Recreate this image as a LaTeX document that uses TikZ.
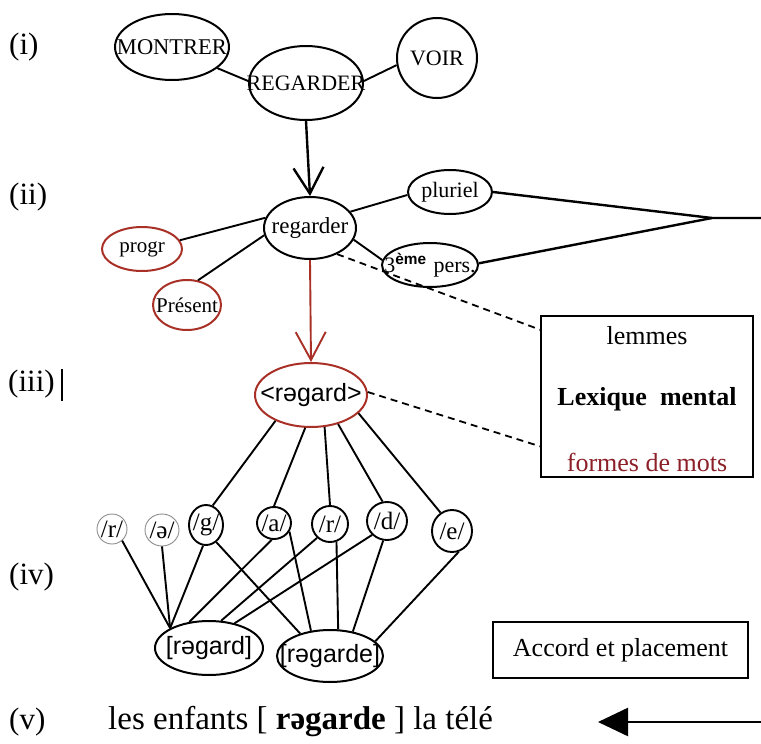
\documentclass[tikz,border=0pt]{standalone}
\usepackage{fontspec}
\setmainfont{Liberation Serif}
\newfontfamily\arialf{Liberation Sans}
\usetikzlibrary{shapes.geometric,arrows.meta}
\definecolor{myred}{RGB}{168,48,38}
\definecolor{txtred}{RGB}{140,32,40}
\newcommand{\fs}[1]{\fontsize{#1}{#1}\selectfont}
\tikzset{
  ell/.style={draw, ellipse, line width=2pt, inner sep=0pt},
  txt/.style 2 args={label={[font=#1, inner sep=0pt]center:#2}},
  redell/.style={ell, draw=myred},
  phon/.style={ell, line width=1.9pt},
  faint/.style={ell, line width=0.9pt, draw=black!45},
  conn/.style={line width=1.9pt},
  dashc/.style={line width=1.8pt, dash pattern=on 7pt off 5pt},
  lbl/.style={anchor=west, font=\fs{31}, inner sep=0pt},
  boxtxt/.style={font=\fs{26}, inner sep=0pt},
}
\begin{document}
\begin{tikzpicture}[x=1pt,y=-1pt]
\useasboundingbox (0,0) rectangle (761,744);
% labels
\node[lbl] (li) at (9,47) {(i)};
\node[lbl] (lii) at (9,197) {(ii)};
\node[lbl] (liii) at (8,384) {(iii)};
\node[lbl] (liv) at (9,577) {(iv)};
\node[lbl] (lv) at (9,722) {(v)};
\draw[line width=2.8pt] (62,369) -- (62,401);
% level (i)
\node[ell, minimum width=114pt, minimum height=66pt, txt={\fs{22.5}}{MONTRER}] (montrer) at (172,47) {};
\node[ell, minimum width=114pt, minimum height=74pt, txt={\fs{22}}{REGARDER}] (REG) at (306,83) {};
\node[ell, minimum width=80pt, minimum height=80pt, txt={\fs{22}}{VOIR}] (voir) at (437,58) {};
\draw[conn] (montrer.-25) -- (REG.178);
\draw[conn] (REG.2) -- (voir.190);
% level (ii)
\node[ell, minimum width=92pt, minimum height=62pt, txt={\fs{23}}{regarder}] (reg) at (310,228) {};
\node[ell, minimum width=84pt, minimum height=44pt, txt={\fs{22}}{pluriel}] (plur) at (450,192) {};
\node[ell, minimum width=96pt, minimum height=44pt, txt={\fs{22}}{3\textsuperscript{\arialf\bfseries ème}\hspace{7pt}pers.}] (pers) at (430,265) {};
\node[redell, minimum width=80pt, minimum height=44pt, txt={\fs{21}}{progr}] (progr) at (142,249) {};
\node[redell, minimum width=68pt, minimum height=50pt, txt={\fs{21}}{Présent}] (pres) at (187,305) {};
\draw[line width=2.4pt, -{Straight Barb[length=26pt,width=30pt,line width=2.4pt]}] (REG.south) -- (reg.north);
\draw[conn] (reg.22) -- (plur.184);
\draw[conn] (reg.345) -- (pers.174);
\draw[conn] (reg.167) -- (progr.13);
\draw[conn] (reg.189) -- (pres.66);
\coordinate (fork) at (712,218);
\coordinate (forkend) at (761,218);
\draw[line width=2.4pt] (plur.0) -- (fork) -- (forkend);
\draw[line width=2.4pt] (pers.2) -- (fork);
% lexique box
\node[draw, line width=1.8pt, minimum width=212pt, minimum height=161pt, inner sep=0pt] (lex) at (647,396.5) {};
\node[boxtxt] (lem) at (647,336) {lemmes};
\node[boxtxt, font=\fs{26}\bfseries] (lexm) at (647,399) {Lexique\ \ mental};
\node[boxtxt, text=txtred] (form) at (647,462) {formes de mots};
\draw[dashc] (reg.316) -- (lex.148);
% level (iii)
\node[redell, minimum width=112pt, minimum height=64pt, txt={\arialf\fs{25}}{<rəgard>}] (rag) at (311,395) {};
\draw[myred, line width=1.9pt, -{Straight Barb[length=28pt,width=30pt,line width=1.9pt]}] (reg.south) -- (rag.north);
\draw[dashc] (rag.3) -- (lex.205);
% level (iv)
\node[faint, minimum width=30pt, minimum height=30pt, txt={\fs{25}}{/r/}] (r1) at (112,529) {};
\node[faint, minimum width=34pt, minimum height=32pt, txt={\fs{25}}{/ə/}] (schwa) at (162,530) {};
\node[phon, minimum width=34pt, minimum height=40pt, txt={\fs{25}}{/g/}] (g) at (206,525) {};
\node[phon, minimum width=34pt, minimum height=32pt, txt={\fs{25}}{/a/}] (a) at (274,523) {};
\node[phon, minimum width=36pt, minimum height=36pt, txt={\fs{25}}{/r/}] (r2) at (330,524) {};
\node[phon, minimum width=40pt, minimum height=38pt, txt={\fs{25}}{/d/}] (d) at (387,521) {};
\node[phon, minimum width=40pt, minimum height=42pt, txt={\fs{25}}{/e/}] (e) at (452,531) {};
\draw[conn] (rag.216) -- (g.71);
\draw[conn] (rag.260) -- (a.north);
\draw[conn] (rag.293) -- (r2.north);
\draw[conn] (rag.313) -- (d.103);
\draw[conn] (rag.339) -- (e.122);
\node[ell, minimum width=108pt, minimum height=54pt, txt={\arialf\fs{25}}{[rəgard]}] (rgd) at (209,648) {};
\node[ell, minimum width=106pt, minimum height=52pt, txt={\arialf\fs{25}}{[rəgarde]}] (rgde) at (330,656) {};
\draw[conn] (r1.311) -- (rgd.153);
\draw[conn] (schwa.south) -- (rgd.153);
\draw[conn] (g.262) -- (rgd.153);
\draw[conn] (a.262) -- (rgd.127);
\draw[conn] (r2.227) -- (rgd.66);
\draw[conn] (d.223) -- (rgd.44);
\draw[conn] (g.301) -- (rgde.143);
\draw[conn] (a.331) -- (rgde.127);
\draw[conn] (r2.290) -- (rgde.73);
\draw[conn] (d.259) -- (rgde.47);
\draw[conn] (e.288) -- (rgde.18);
% accord box
\node[draw, line width=2.8pt, minimum width=255pt, minimum height=56pt, font=\fs{26}] (acc) at (620.5,650) {Accord et placement};
% level (v)
\node[anchor=west, font=\fs{33}, inner sep=0pt] (sent) at (108,722) {les enfants [ \textbf{rəgarde} ] la télé};
\coordinate (arrstart) at (761,722);
\coordinate (arrtip) at (598,722);
\draw[line width=2.4pt, -{Triangle[length=30pt,width=28pt]}] (arrstart) -- (arrtip);
\end{tikzpicture}
\end{document}
